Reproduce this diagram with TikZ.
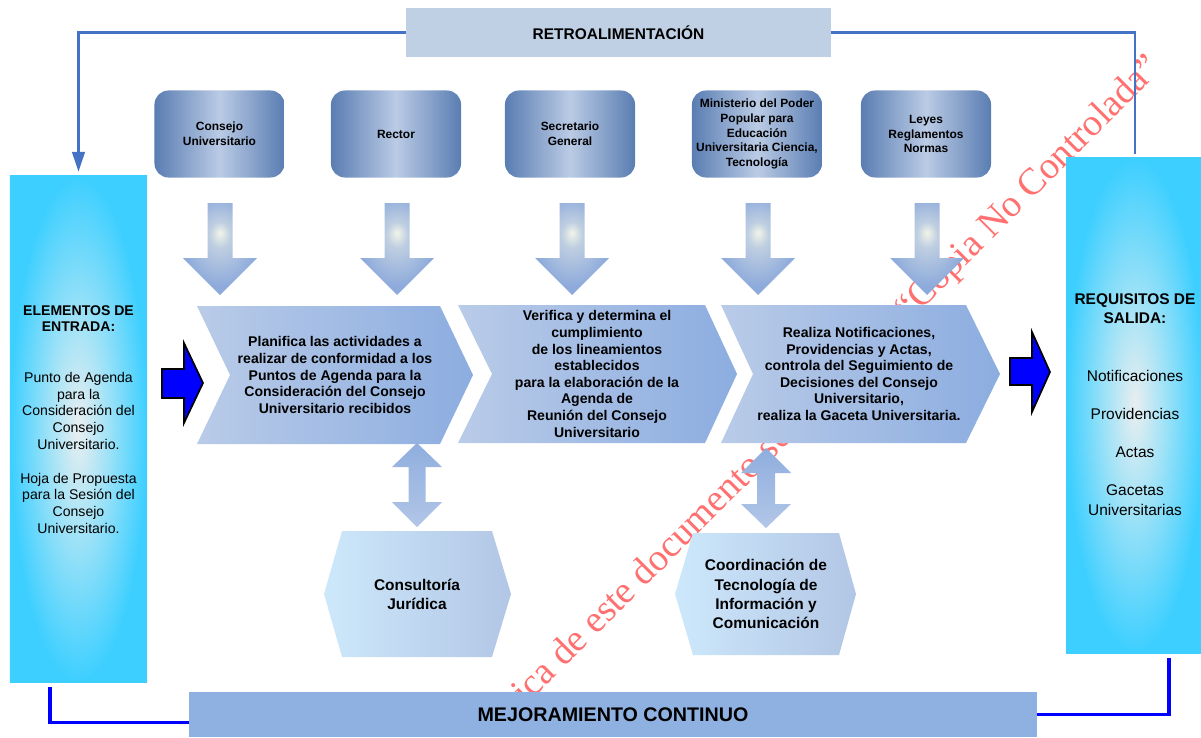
\documentclass[tikz,border=0pt]{standalone}
\usepackage{fontspec}
\setmainfont{Liberation Sans}
\newfontfamily\marcafont{Liberation Serif}
\usetikzlibrary{arrows.meta}
\definecolor{colRetro}{HTML}{BFD0E4}
\definecolor{colLinea}{HTML}{4472C4}
\definecolor{colCajaOsc}{HTML}{5A7DB2}
\definecolor{colCajaClara}{HTML}{BACBE5}
\definecolor{colCian}{HTML}{3DCFFF}
\definecolor{colCianMedio}{HTML}{9EE2F7}
\definecolor{colCianClaro}{HTML}{E9EEF0}
\definecolor{colChevIzq}{HTML}{B9CBE8}
\definecolor{colChevDer}{HTML}{8CADE0}
\definecolor{colMejora}{HTML}{8EB1E2}
\definecolor{colFlecha}{HTML}{8DAADB}
\definecolor{colFlechaClara}{HTML}{F1F4E8}
\definecolor{colHexClaro}{HTML}{CDE8FB}
\definecolor{colHexOsc}{HTML}{B2C6E5}
\definecolor{colDobleArriba}{HTML}{8FAEDE}
\definecolor{colDobleAbajo}{HTML}{B2C6E7}
\definecolor{colMarca}{HTML}{FF7070}
\pgfdeclareradialshading{brillo}{\pgfpoint{0bp}{9bp}}{color(0bp)=(colFlechaClara); color(7bp)=(colFlechaClara!50!colFlecha); color(25bp)=(colFlecha); color(50bp)=(colFlecha)}
\pgfdeclareradialshading{brillocian}{\pgfpoint{0bp}{0bp}}{color(0bp)=(colCianClaro); color(11bp)=(colCianMedio); color(25bp)=(colCian); color(50bp)=(colCian)}
\begin{document}
\begin{tikzpicture}[x=0.025cm,y=-0.025cm,
		fuente/.style={rounded corners=0.35cm,minimum width=3.25cm,minimum height=2.175cm,left color=colCajaOsc,right color=colCajaOsc,middle color=colCajaClara,font=\bfseries\fontsize{8.5}{10.4}\selectfont,align=center,inner sep=0pt},
		lateral/.style={shading=brillocian,inner sep=0pt},
		texto/.style={font=\bfseries\fontsize{10}{11.8}\selectfont,align=center,inner sep=0pt},
		apoyotexto/.style={font=\bfseries\fontsize{11}{13.6}\selectfont,align=center,inner sep=0pt},
		proceso/.style={left color=colChevIzq,right color=colChevDer},
		bajada/.style={shading=brillo},
		doble/.style={top color=colDobleArriba,bottom color=colDobleAbajo},
		apoyo/.style={left color=colHexClaro,right color=colHexOsc},
		azul/.style={fill=blue,draw=black,line width=1.2pt},
		retorno/.style={draw=colLinea,line width=1.5pt},
		mejora/.style={draw=blue,line width=2.2pt}]
			\useasboundingbox (0,0) rectangle (1201,737);
			% marca de agua, queda debajo de todo
			\node[text=colMarca,font=\marcafont\fontsize{27}{27}\selectfont,rotate=45,anchor=base west,inner sep=0pt] (WM) at (499,733) {física de este documento se considera “Copia No Controlada”};
			\node[fill=colRetro,minimum width=10.625cm,minimum height=1.225cm,font=\bfseries\fontsize{11}{13}\selectfont] (RT) at (618.5,32.5) {RETROALIMENTACIÓN};
			\node[fuente] (CU) at (219.5,134) {Consejo\\Universitario};
			\node[fuente] (RC) at (396,134) {Rector};
			\node[fuente] (SG) at (570,134) {Secretario\\General};
			\node[fuente] (MP) at (757,134) {Ministerio del Poder\\Popular para\\Educación\\Universitaria Ciencia,\\Tecnología};
			\node[fuente] (LY) at (926,134) {Leyes\\Reglamentos\\Normas};
			\foreach \cx in {220,397,572,758,927}
				\shade[bajada] (\cx-12.5,203) -- (\cx+12.5,203) -- (\cx+12.5,258) -- (\cx+37,258) -- (\cx,295) -- (\cx-37,258) -- (\cx-12.5,258) -- cycle;
			\node[lateral,minimum width=3.425cm,minimum height=12.65cm] (EN) at (78.5,429) {};
			\node[font=\fontsize{10}{11.95}\selectfont,align=center,inner sep=0pt] (ENt) at (78.5,419.5) {\textbf{ELEMENTOS DE}\\\textbf{ENTRADA:}\\[23.9pt]Punto de Agenda\\para la\\Consideración del\\Consejo\\Universitario.\\[11.95pt]Hoja de Propuesta\\para la Sesión del\\Consejo\\Universitario.};
			\node[lateral,minimum width=3.45cm,minimum height=12.375cm] (SA) at (1135,405.5) {};
			\node[font=\fontsize{11}{13.6}\selectfont,align=center,inner sep=0pt] (SAt) at (1135,404.5) {\textbf{REQUISITOS DE}\\\textbf{SALIDA:}\\[27.2pt]Notificaciones\\[13.6pt]Providencias\\[13.6pt]Actas\\[13.6pt]Gacetas\\Universitarias};
			\shade[proceso] (197,306) -- (440,306) -- (473,375) -- (440,444) -- (197,444) -- (230,375) -- cycle;
			\shade[proceso] (458,305) -- (705,305) -- (737,374) -- (705,443) -- (458,443) -- (492,374) -- cycle;
			\shade[proceso] (721,305) -- (966,305) -- (1000,374) -- (966,443) -- (721,443) -- (753,374) -- cycle;
			\node[texto] (P1) at (335,375) {Planifica las actividades a\\realizar de conformidad a los\\Puntos de Agenda para la\\Consideración del Consejo\\Universitario recibidos};
			\node[texto] (P2) at (597,374) {Verifica y determina el\\cumplimiento\\de los lineamientos\\establecidos\\para la elaboración de la\\Agenda de\\Reunión del Consejo\\Universitario};
			\node[texto] (P3) at (859,374) {Realiza Notificaciones,\\Providencias y Actas,\\controla del Seguimiento de\\Decisiones del Consejo\\Universitario,\\realiza la Gaceta Universitaria.};
			\draw[azul] (162,369) -- (184,369) -- (184,343) -- (203,383) -- (184,423) -- (184,398) -- (162,398) -- cycle;
			\draw[azul] (1010,358) -- (1032,358) -- (1032,332) -- (1050,372) -- (1032,412) -- (1032,385) -- (1010,385) -- cycle;
			\shade[doble] (417,443) -- (442,467) -- (425.5,467) -- (425.5,502) -- (442,502) -- (417,527) -- (392,502) -- (408.5,502) -- (408.5,467) -- (392,467) -- cycle;
			\shade[doble] (766,448) -- (791,473) -- (775,473) -- (775,504) -- (791,504) -- (766,528) -- (741,504) -- (757,504) -- (757,473) -- (741,473) -- cycle;
			\shade[apoyo] (342,531) -- (492,531) -- (511,594) -- (492,657) -- (342,657) -- (324,594) -- cycle;
			\shade[apoyo] (693,533) -- (839,533) -- (856,594) -- (839,655) -- (693,655) -- (675,594) -- cycle;
			\node[apoyotexto] (CJ) at (417,594) {Consultoría\\Jurídica};
			\node[apoyotexto] (CT) at (766,594) {Coordinación de\\Tecnología de\\Información y\\Comunicación};
			\node[fill=colMejora,minimum width=21.2cm,minimum height=1.125cm,font=\bfseries\fontsize{14}{16}\selectfont] (MJ) at (613,714.5) {MEJORAMIENTO CONTINUO};
			\draw[retorno,-{Triangle[length=14pt,width=9pt]}] (RT.west) -| ([yshift=0.1cm]EN.north);
			\draw[retorno] (RT.east) -| ([yshift=0.1cm]SA.north);
			\coordinate (E1) at (50,687);
			\coordinate (S1) at (1169,658);
			\draw[mejora] (E1) |- ([yshift=-0.19cm]MJ.west);
			\draw[mejora] (MJ.east) -| (S1);
		\end{tikzpicture}
\end{document}
